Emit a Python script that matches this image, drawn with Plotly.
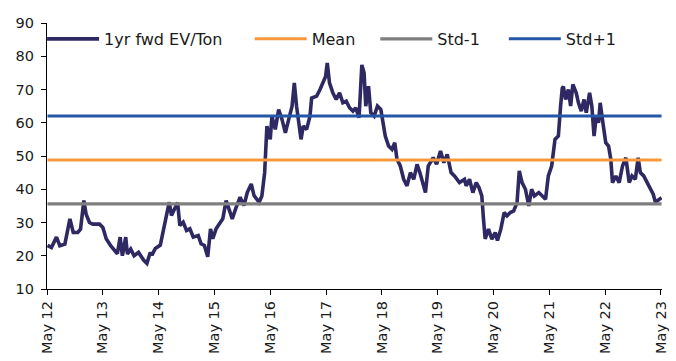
import pandas as pd
import plotly.graph_objects as go

# Observation dates as decimal years, and 1yr forward EV/Ton multiples
obs_year = [
    2012.34, 2012.41, 2012.50, 2012.56, 2012.65, 2012.71, 2012.74, 2012.80, 2012.88, 2012.93,
    2012.99, 2013.03, 2013.09, 2013.15, 2013.27, 2013.33, 2013.39, 2013.47, 2013.53, 2013.59,
    2013.64, 2013.68, 2013.74, 2013.77, 2013.83, 2013.89, 2013.97, 2014.06, 2014.12, 2014.18,
    2014.21, 2014.27, 2014.36, 2014.42, 2014.47, 2014.52, 2014.56, 2014.61, 2014.67, 2014.71,
    2014.77, 2014.83, 2014.89, 2014.95, 2015.04, 2015.09, 2015.15, 2015.21, 2015.26, 2015.30,
    2015.36, 2015.42, 2015.48, 2015.54, 2015.60, 2015.65, 2015.71, 2015.79, 2015.86, 2015.92,
    2015.99, 2016.04, 2016.13, 2016.18, 2016.23, 2016.26, 2016.27, 2016.33, 2016.36, 2016.42,
    2016.48, 2016.54, 2016.60, 2016.66, 2016.72, 2016.76, 2016.80, 2016.88, 2016.92, 2016.98,
    2017.04, 2017.07, 2017.16, 2017.22, 2017.28, 2017.32, 2017.35, 2017.39, 2017.45, 2017.51,
    2017.57, 2017.63, 2017.69, 2017.75, 2017.81, 2017.86, 2017.92, 2017.97, 2018.01, 2018.04,
    2018.09, 2018.13, 2018.19, 2018.25, 2018.31, 2018.35, 2018.39, 2018.45, 2018.51, 2018.56,
    2018.60, 2018.66, 2018.72, 2018.78, 2018.84, 2018.90, 2018.96, 2019.01, 2019.07, 2019.11,
    2019.16, 2019.25, 2019.31, 2019.38, 2019.44, 2019.50, 2019.57, 2019.63, 2019.72, 2019.81,
    2019.84, 2019.90, 2019.96, 2020.02, 2020.07, 2020.12, 2020.15, 2020.18, 2020.24, 2020.30,
    2020.36, 2020.40, 2020.46, 2020.52, 2020.57, 2020.63, 2020.69, 2020.75, 2020.79, 2020.84,
    2020.90, 2020.96, 2021.01, 2021.06, 2021.14, 2021.21, 2021.26, 2021.31, 2021.37, 2021.43,
    2021.49, 2021.53, 2021.56, 2021.58, 2021.62, 2021.67, 2021.71, 2021.75, 2021.81, 2021.85,
    2021.90, 2021.95, 2021.99, 2022.05, 2022.09, 2022.13, 2022.17, 2022.21, 2022.24, 2022.28,
    2022.34, 2022.39, 2022.43, 2022.46, 2022.52, 2022.58, 2022.64, 2022.70, 2022.76, 2022.81,
    2022.87, 2022.92, 2022.96, 2023.02, 2023.08, 2023.13, 2023.19, 2023.23, 2023.29, 2023.34,
]
ev_ton = [
    23.1, 22.5, 25.6, 23.0, 23.5, 28.1, 31.1, 27.0, 27.0, 28.0,
    36.6, 32.5, 30.0, 29.5, 29.5, 28.5, 25.1, 23.0, 21.6, 20.6,
    25.6, 20.0, 25.6, 20.5, 22.0, 20.0, 21.0, 18.7, 17.7, 21.0,
    20.2, 22.2, 23.2, 28.1, 33.1, 36.1, 32.1, 34.0, 36.0, 29.1,
    30.1, 27.6, 28.1, 25.6, 26.1, 23.6, 23.1, 19.7, 28.1, 25.1,
    28.1, 29.6, 31.1, 36.6, 33.6, 31.1, 34.1, 37.6, 35.1, 39.1,
    41.6, 38.1, 36.1, 38.0, 45.0, 57.0, 59.0, 55.0, 62.0, 58.0,
    64.0, 61.0, 57.0, 61.0, 65.0, 72.0, 65.0, 55.0, 59.0, 58.0,
    62.0, 67.4, 68.0, 70.0, 72.0, 73.9, 78.0, 72.0, 69.0, 67.0,
    69.0, 66.0, 66.5, 64.5, 63.5, 64.5, 61.5, 77.4, 75.0, 65.0,
    71.0, 63.0, 62.0, 65.0, 64.0, 60.0, 56.0, 53.0, 52.0, 54.0,
    49.0, 47.0, 43.0, 41.0, 45.0, 43.0, 47.5, 45.0, 41.0, 39.0,
    47.0, 49.5, 47.5, 51.5, 48.0, 50.5, 45.0, 44.0, 42.0, 43.0,
    41.0, 43.0, 39.0, 42.0, 40.5, 38.0, 31.1, 25.1, 28.0, 25.0,
    27.0, 24.6, 28.0, 33.0, 32.0, 33.0, 33.5, 36.0, 45.5, 42.0,
    40.0, 35.0, 40.0, 38.0, 39.0, 38.0, 37.0, 44.0, 47.0, 55.0,
    56.0, 65.0, 70.4, 70.9, 67.0, 70.0, 65.0, 71.5, 69.0, 66.0,
    63.5, 67.0, 63.0, 69.0, 65.0, 56.0, 62.0, 60.0, 66.0, 61.0,
    54.0, 53.0, 49.0, 42.0, 44.0, 42.0, 47.0, 49.5, 42.0, 44.0,
    43.0, 49.5, 45.0, 44.0, 42.0, 40.0, 38.5, 36.1, 37.0, 37.5,
]

# Long-run reference levels
mean_level = 48.8
std_minus_1 = 35.6
std_plus_1 = 62.0

tick_years = list(range(2012, 2024))


def to_timestamp(y):
    year = int(y)
    start = pd.Timestamp(year, 1, 1)
    end = pd.Timestamp(year + 1, 1, 1)
    return start + (end - start) * (y - year)


dates = [to_timestamp(y) for y in obs_year]
span = [dates[0], dates[-1]]

fig = go.Figure()
fig.add_trace(go.Scatter(
    x=dates, y=ev_ton, mode="lines", name="1yr fwd EV/Ton",
    line=dict(color="#2E2962", width=3.6), legend="legend",
))
fig.add_trace(go.Scatter(
    x=span, y=[mean_level] * 2, mode="lines", name="Mean",
    line=dict(color="#F7993A", width=3), legend="legend2",
))
fig.add_trace(go.Scatter(
    x=span, y=[std_minus_1] * 2, mode="lines", name="Std-1",
    line=dict(color="#7F7F7F", width=3.4), legend="legend3",
))
fig.add_trace(go.Scatter(
    x=span, y=[std_plus_1] * 2, mode="lines", name="Std+1",
    line=dict(color="#2457A8", width=3), legend="legend4",
))

family = "DejaVu Sans, Verdana, sans-serif"
tick_font = dict(family=family, size=14.5, color="#1a1a1a")
legend_font = dict(family=family, size=16, color="#1a1a1a")


def legend_box(x):
    return dict(
        orientation="h", x=x, xanchor="left", y=0.94, yanchor="middle",
        bgcolor="rgba(0,0,0,0)", font=legend_font, itemwidth=52,
    )


fig.update_layout(
    width=676, height=361,
    margin=dict(l=47, r=7, t=23, b=70),
    paper_bgcolor="white", plot_bgcolor="white",
    font=tick_font,
    showlegend=True,
    legend=legend_box(-0.008),
    legend2=legend_box(0.3296),
    legend3=legend_box(0.5338),
    legend4=legend_box(0.7428),
)
fig.update_xaxes(
    range=[pd.Timestamp(2012, 5, 1), pd.Timestamp(2023, 5, 8)],
    tickvals=[pd.Timestamp(y, 5, 1) for y in tick_years],
    tickformat="%b %y", tickangle=-90, tickfont=tick_font,
    showline=True, linecolor="black", linewidth=1.3,
    ticks="outside", ticklen=5, tickcolor="black", tickwidth=1.3,
    showgrid=False, zeroline=False,
)
fig.update_yaxes(
    range=[10, 90], dtick=10, tick0=10, tickfont=tick_font,
    showline=True, linecolor="black", linewidth=1.3,
    ticks="outside", ticklen=5, tickcolor="black", tickwidth=1.3,
    ticklabelstandoff=4,
    showgrid=False, zeroline=False,
)

fig.write_html("out.html")
